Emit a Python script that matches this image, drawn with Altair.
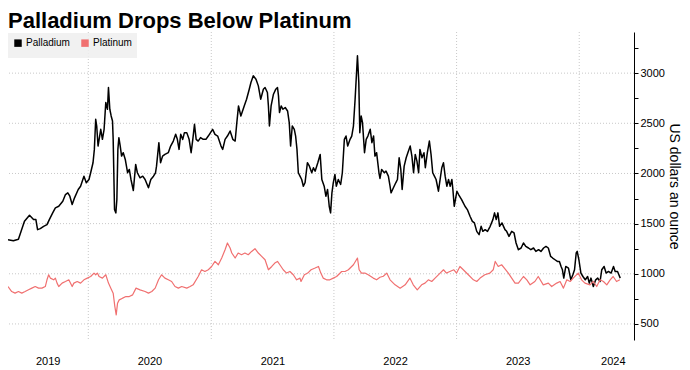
import altair as alt
import pandas as pd

pall_dates = [
    "2019-05-07","2019-05-23","2019-06-07","2019-06-15","2019-06-25","2019-07-10","2019-07-22","2019-07-29",
    "2019-08-03","2019-08-11","2019-08-21","2019-08-31","2019-09-07","2019-09-17","2019-09-25","2019-10-05",
    "2019-10-17","2019-10-25","2019-11-01","2019-11-07","2019-11-14","2019-11-21","2019-12-02","2019-12-09",
    "2019-12-19","2019-12-26","2020-01-03","2020-01-08","2020-01-15","2020-01-19","2020-01-23","2020-01-26",
    "2020-01-30","2020-02-07","2020-02-12","2020-02-17","2020-02-22","2020-02-27","2020-03-01","2020-03-05",
    "2020-03-09","2020-03-13","2020-03-15","2020-03-19","2020-03-23","2020-03-26","2020-03-29","2020-04-01",
    "2020-04-05","2020-04-09","2020-04-14","2020-04-20","2020-04-27","2020-05-02","2020-05-07","2020-05-14",
    "2020-05-21","2020-05-26","2020-06-03","2020-06-11","2020-06-18","2020-06-28","2020-07-05","2020-07-13",
    "2020-07-19","2020-07-22","2020-07-29","2020-08-03","2020-08-09","2020-08-16","2020-08-26","2020-09-02",
    "2020-09-10","2020-09-17","2020-09-22","2020-09-27","2020-10-02","2020-10-08","2020-10-13","2020-10-20",
    "2020-10-27","2020-11-02","2020-11-07","2020-11-12","2020-11-17","2020-11-23","2020-11-30","2020-12-08",
    "2020-12-16","2020-12-23","2021-01-05","2021-01-12","2021-01-20","2021-01-30","2021-02-04","2021-02-11",
    "2021-02-18","2021-02-26","2021-03-06","2021-03-13","2021-03-18","2021-03-23","2021-03-30","2021-04-09",
    "2021-04-16","2021-04-24","2021-04-29","2021-05-06","2021-05-14","2021-05-21","2021-05-28","2021-06-05",
    "2021-06-10","2021-06-17","2021-06-20","2021-06-23","2021-06-28","2021-07-05","2021-07-12","2021-07-17",
    "2021-07-20","2021-07-23","2021-07-28","2021-08-02","2021-08-09","2021-08-16","2021-08-21","2021-08-25",
    "2021-08-30","2021-09-05","2021-09-09","2021-09-13","2021-09-17","2021-09-22","2021-09-27","2021-10-02",
    "2021-10-07","2021-10-14","2021-10-20","2021-10-27","2021-11-01","2021-11-06","2021-11-14","2021-11-21",
    "2021-11-26","2021-12-03","2021-12-08","2021-12-13","2021-12-18","2021-12-22","2021-12-26","2021-12-30",
    "2022-01-04","2022-01-08","2022-01-14","2022-01-21","2022-01-26","2022-02-01","2022-02-06","2022-02-11",
    "2022-02-18","2022-02-23","2022-02-28","2022-03-05","2022-03-12","2022-03-16","2022-03-19","2022-03-23",
    "2022-03-27","2022-04-02","2022-04-07","2022-04-12","2022-04-19","2022-04-24","2022-04-29","2022-05-03",
    "2022-05-08","2022-05-15","2022-05-18","2022-05-23","2022-05-31","2022-06-05","2022-06-12","2022-06-17",
    "2022-06-20","2022-06-27","2022-07-04","2022-07-09","2022-07-14","2022-07-19","2022-07-23","2022-07-29",
    "2022-08-04","2022-08-09","2022-08-16","2022-08-21","2022-08-26","2022-08-31","2022-09-05","2022-09-10",
    "2022-09-14","2022-09-20","2022-09-26","2022-09-30","2022-10-06","2022-10-12","2022-10-17","2022-10-22",
    "2022-10-27","2022-11-01","2022-11-08","2022-11-13","2022-11-18","2022-11-23","2022-11-28","2022-12-03",
    "2022-12-08","2022-12-13","2022-12-18","2022-12-21","2022-12-25","2023-01-02","2023-01-07","2023-01-16",
    "2023-01-26","2023-02-02","2023-02-10","2023-02-17","2023-02-23","2023-03-02","2023-03-09","2023-03-15",
    "2023-03-20","2023-03-27","2023-04-03","2023-04-11","2023-04-19","2023-04-24","2023-04-29","2023-05-04",
    "2023-05-09","2023-05-16","2023-05-25","2023-05-30","2023-06-06","2023-06-14","2023-06-21","2023-06-27",
    "2023-07-04","2023-07-12","2023-07-19","2023-07-26","2023-08-03","2023-08-10","2023-08-18","2023-08-25",
    "2023-09-02","2023-09-09","2023-09-17","2023-09-24","2023-10-01","2023-10-08","2023-10-14","2023-10-21",
    "2023-10-28","2023-11-03","2023-11-08","2023-11-12","2023-11-16","2023-11-22","2023-11-30","2023-12-07",
    "2023-12-13","2023-12-18","2023-12-23","2023-12-26","2023-12-31","2024-01-06","2024-01-12","2024-01-19",
    "2024-01-26","2024-01-31","2024-02-05","2024-02-12","2024-02-19","2024-02-25","2024-03-03","2024-03-08",
    "2024-03-15","2024-03-21","2024-03-28","2024-04-05","2024-04-12","2024-04-17","2024-04-24","2024-04-28",
    "2024-05-02",
]
pall_values = [
    1340,1330,1345,1423,1523,1583,1540,1540,
    1440,1450,1473,1490,1540,1607,1657,1673,
    1723,1790,1807,1773,1690,1757,1840,1873,
    1973,1907,1940,2007,2107,2240,2540,2473,
    2273,2440,2340,2440,2707,2640,2857,2640,
    2573,2523,2340,1640,1607,1740,2240,2357,
    2273,2173,2207,2140,2007,2040,1940,1830,
    2090,2007,1957,1973,1940,1857,1940,1973,
    2007,2073,2307,2107,2173,2190,2207,2273,
    2323,2390,2340,2240,2390,2340,2407,2407,
    2340,2207,2340,2490,2340,2323,2357,2340,
    2340,2373,2440,2390,2373,2273,2240,2340,
    2373,2423,2340,2323,2507,2673,2573,2673,
    2740,2840,2907,2973,2940,2873,2740,2840,
    2857,2807,2673,2473,2673,2790,2840,2857,
    2773,2607,2673,2640,2657,2623,2507,2273,
    2473,2440,2373,2240,2007,1973,1940,1873,
    1907,2107,2073,2007,2057,2023,2107,2190,
    1940,1873,1773,1840,1673,1607,1807,1907,
    1990,1873,1940,1890,2007,2340,2373,2273,
    2340,2373,2473,2740,3173,2907,2407,2573,
    2507,2207,2340,2373,2440,2307,2373,2173,
    2207,2007,1950,2040,2007,2023,1973,1873,
    1807,1857,1907,1940,2157,2040,1840,2073,
    2157,2207,2273,2173,2007,2190,2123,2007,
    2240,2157,2207,2057,2207,2323,2190,2007,
    1973,1940,1823,1940,2057,2107,1973,1873,
    1940,1873,1940,1840,1673,1823,1790,1740,
    1673,1640,1573,1523,1507,1423,1390,1473,
    1423,1440,1423,1473,1540,1607,1540,1607,
    1473,1507,1440,1423,1373,1423,1407,1307,
    1240,1257,1307,1273,1257,1240,1257,1223,
    1240,1223,1257,1273,1257,1173,1157,1140,
    1123,1123,1073,1040,957,1073,1057,940,
    990,1040,1207,1223,1140,1007,973,940,
    973,907,957,873,940,957,923,1040,
    1073,1007,1023,1007,1073,1023,1023,990,
    957,
]

plat_dates = [
    "2019-05-07","2019-05-18","2019-05-28","2019-06-07","2019-06-17","2019-06-27","2019-07-07","2019-07-17",
    "2019-07-27","2019-08-06","2019-08-16","2019-08-26","2019-08-31","2019-09-05","2019-09-10","2019-09-20",
    "2019-09-25","2019-09-30","2019-10-05","2019-10-15","2019-10-25","2019-11-04","2019-11-14","2019-11-19",
    "2019-11-29","2019-12-09","2019-12-19","2019-12-29","2020-01-08","2020-01-18","2020-01-23","2020-01-28",
    "2020-02-02","2020-02-12","2020-02-22","2020-03-01","2020-03-08","2020-03-15","2020-03-20","2020-03-24",
    "2020-03-28","2020-04-02","2020-04-12","2020-04-22","2020-05-02","2020-05-12","2020-05-22","2020-06-03",
    "2020-06-18","2020-06-28","2020-07-08","2020-07-18","2020-07-28","2020-08-06","2020-08-16","2020-08-26",
    "2020-09-05","2020-09-15","2020-09-25","2020-10-05","2020-10-20","2020-10-30","2020-11-08","2020-11-23",
    "2020-12-03","2020-12-13","2020-12-23","2021-01-02","2021-01-12","2021-01-22","2021-02-01","2021-02-11",
    "2021-02-18","2021-02-26","2021-03-03","2021-03-13","2021-03-22","2021-04-01","2021-04-11","2021-04-21",
    "2021-05-01","2021-05-11","2021-05-21","2021-05-31","2021-06-10","2021-06-20","2021-06-30","2021-07-09",
    "2021-07-17","2021-07-24","2021-08-03","2021-08-13","2021-08-23","2021-09-02","2021-09-12","2021-09-22",
    "2021-09-25","2021-10-05","2021-10-15","2021-10-25","2021-11-06","2021-11-16","2021-11-23","2021-11-30",
    "2021-12-10","2021-12-20","2021-12-30","2022-01-09","2022-01-24","2022-02-03","2022-02-13","2022-02-28",
    "2022-03-12","2022-03-17","2022-03-24","2022-04-03","2022-04-13","2022-04-28","2022-05-08","2022-05-18",
    "2022-05-28","2022-06-07","2022-06-17","2022-07-02","2022-07-17","2022-08-01","2022-08-15","2022-08-25",
    "2022-09-06","2022-09-19","2022-09-29","2022-10-09","2022-10-19","2022-10-29","2022-11-13","2022-11-23",
    "2022-12-02","2022-12-12","2022-12-24","2023-01-01","2023-01-11","2023-01-21","2023-02-05","2023-02-20",
    "2023-03-02","2023-03-12","2023-03-26","2023-04-10","2023-04-20","2023-04-26","2023-05-05","2023-05-15",
    "2023-05-25","2023-06-04","2023-06-14","2023-06-24","2023-07-04","2023-07-19","2023-07-29","2023-08-08",
    "2023-08-22","2023-09-01","2023-09-16","2023-10-01","2023-10-11","2023-10-26","2023-11-05","2023-11-15",
    "2023-11-25","2023-12-05","2023-12-14","2023-12-29","2024-01-08","2024-01-18","2024-02-02","2024-02-12",
    "2024-02-22","2024-03-03","2024-03-13","2024-03-23","2024-04-02","2024-04-11","2024-04-21","2024-05-01",
]
plat_values = [
    873,823,807,823,807,823,840,857,
    873,857,857,873,940,990,957,940,
    957,907,873,907,923,940,873,907,
    923,907,940,957,973,1007,990,1007,
    973,957,990,907,857,807,673,590,
    707,740,757,773,773,790,857,840,
    823,807,823,857,940,990,957,940,
    923,873,857,873,857,873,890,973,
    1040,1023,1040,1073,1123,1090,1157,1240,
    1307,1257,1207,1157,1207,1190,1207,1190,
    1223,1250,1207,1173,1140,1040,1073,1107,
    1123,1090,1040,1007,1023,990,940,957,
    923,990,1007,1040,1057,1073,1007,957,
    940,940,957,973,1023,1023,1040,1090,
    1157,1040,1007,1007,990,957,940,965,
    975,1007,940,890,857,890,957,890,
    840,890,907,940,923,957,1007,1040,
    1007,1023,1040,1007,1073,1040,990,940,
    923,957,990,1007,1040,1123,1073,1090,
    1050,1007,957,907,907,973,940,890,
    923,973,890,907,873,907,923,857,
    940,923,957,1007,940,907,890,923,
    873,940,923,890,940,973,923,940,
]

series_names = ["Palladium", "Platinum"]
series_colors = ["#000000", "#f07070"]
series_widths = [1.5, 1.2]
year_starts = ["2020-01-01", "2021-01-01", "2022-01-01", "2023-01-01", "2024-01-01"]
year_label_dates = ["2019-09-02", "2020-07-01", "2021-07-02", "2022-07-02", "2023-07-02", "2024-04-10"]
y_ticks = [500, 750, 1000, 1250, 1500, 1750, 2000, 2250, 2500, 2750, 3000, 3250]
y_grid = [500, 1000, 1500, 2000, 2500, 3000]
x_domain = ["2019-05-07", "2024-06-12"]
y_domain = [340, 3410]


def dt(s):
    y, m, d = (int(p) for p in s.split("-"))
    return alt.DateTime(year=y, month=m, date=d)


df = pd.concat([
    pd.DataFrame({"date": pall_dates, "price": pall_values, "series": series_names[0]}),
    pd.DataFrame({"date": plat_dates, "price": plat_values, "series": series_names[1]}),
])

FONT = "Liberation Sans"
x_scale = alt.Scale(domain=[dt(s) for s in x_domain])
y_scale = alt.Scale(domain=y_domain, nice=False, zero=False)

x_axis = alt.Axis(
    values=[dt(s) for s in year_label_dates],
    format="%Y",
    grid=False,
    ticks=False,
    domain=False,
    labelPadding=15,
    labelFontSize=11,
    labelFont=FONT,
    labelColor="#000000",
    title=None,
)
y_axis = alt.Axis(
    orient="right",
    values=y_ticks,
    labelExpr="datum.value % 500 === 0 ? datum.label : ''",
    format="d",
    grid=False,
    domain=True,
    domainColor="#000000",
    tickColor="#000000",
    tickSize=4,
    labelPadding=2,
    labelFontSize=11,
    labelFont=FONT,
    labelColor="#000000",
    title="US dollars an ounce",
    titleFontSize=14,
    titleFont=FONT,
    titleFontWeight="normal",
    titleColor="#000000",
    titlePadding=2,
)
color_legend = alt.Legend(
    title=None,
    orient="none",
    legendX=0,
    legendY=1,
    direction="horizontal",
    symbolType="square",
    symbolSize=12,
    symbolStrokeWidth=4,
    symbolOpacity=1,
    fillColor="rgba(238,238,238,0.85)",
    padding=5,
    labelFontSize=10,
    labelFont=FONT,
    labelColor="#000000",
    labelOffset=3,
    columnPadding=5,
)

vgrid = alt.Chart(pd.DataFrame({"date": year_starts})).mark_rule(
    color="#c8c8c8", strokeDash=[1, 2], strokeWidth=1
).encode(x=alt.X("date:T", scale=x_scale, axis=x_axis))

hgrid = alt.Chart(pd.DataFrame({"price": y_grid})).mark_rule(
    color="#c8c8c8", strokeDash=[1, 2], strokeWidth=1
).encode(y=alt.Y("price:Q", scale=y_scale, axis=y_axis))

line_layers = []
for name, width in zip(series_names, series_widths):
    line_layers.append(
        alt.Chart(df).transform_filter(alt.datum.series == name).mark_line(
            strokeJoin="round", strokeWidth=width
        ).encode(
            x=alt.X("date:T", scale=x_scale, axis=x_axis),
            y=alt.Y("price:Q", scale=y_scale, axis=y_axis),
            color=alt.Color(
                "series:N",
                scale=alt.Scale(domain=series_names, range=series_colors),
                legend=color_legend,
            ),
        )
    )

chart = alt.layer(vgrid, hgrid, *line_layers).properties(
    width=626,
    height=308,
    autosize=alt.AutoSizeParams(type="none"),
    padding={"left": 0, "top": 24, "right": 48, "bottom": 30},
    title=alt.Title(
        "Palladium Drops Below Platinum",
        anchor="start",
        frame="group",
        fontSize=22,
        font=FONT,
        fontWeight="bold",
        color="#000000",
        offset=0,
        dy=1,
    ),
).configure_view(stroke=None)

chart.save("out.html", embed_options={"renderer": "svg", "actions": False})
